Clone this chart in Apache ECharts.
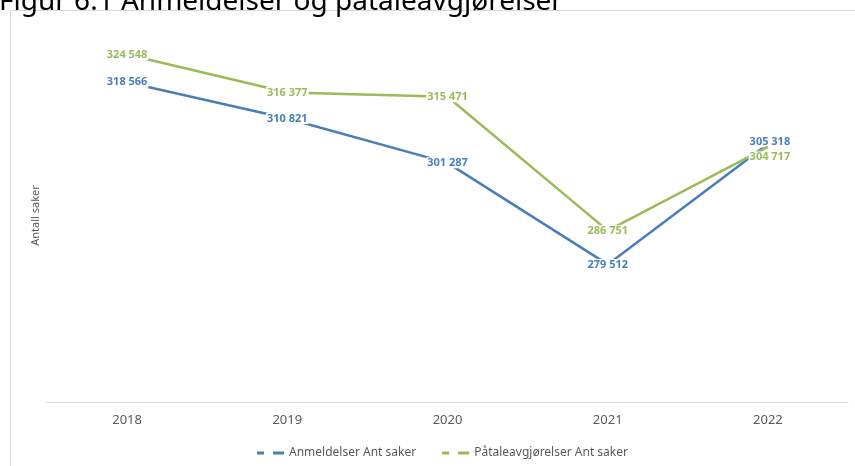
<!DOCTYPE html>
<html><head><meta charset="utf-8">
<script src="https://cdn.jsdelivr.net/npm/echarts@6/dist/echarts.min.js"></script>
<style>html,body{margin:0;padding:0;background:#fff}#c{width:855px;height:466px}</style>
</head><body><div id="c"></div>
<script>
const categories = ['2018', '2019', '2020', '2021', '2022'];
const anmeldelser = [318566, 310821, 301287, 279512, 305318];
const paatale = [324548, 316377, 315471, 286751, 304717];
const seriesNames = ['Anmeldelser Ant saker', 'Påtaleavgjørelser Ant saker'];
const titleText = 'Figur 6.1 Anmeldelser og påtaleavgjørelser';

const blue = '#4a7ebb', green = '#9bbb59';
const fmt = v => String(v).replace(/\B(?=(\d{3})+(?!\d))/g, ' ');
const icon = 'path://M0,0H7V3H0Z M16,0H27V3H16Z';

function build(values, lastOffset) {
  return values.map((v, i) => {
    const d = { value: v };
    if (i === values.length - 1) d.label = { offset: lastOffset };
    return d;
  });
}
const labelBase = (color) => ({
  show: true, position: 'inside', color: color, fontWeight: 'bold',
  fontFamily: 'Noto Sans', fontSize: 11, backgroundColor: '#fff',
  padding: [0, 1], formatter: p => fmt(p.value)
});

const chart = echarts.init(document.getElementById('c'), null, { renderer: 'canvas' });
chart.setOption({
  animation: false,
  backgroundColor: '#fff',
  graphic: [
    { type: 'rect', shape: { x: 10.5, y: 10.5, width: 900, height: 500 }, style: { fill: 'none', stroke: '#d9d9d9', lineWidth: 1 }, z: -1 },
    { type: 'text', x: -1, y: -12, style: { text: titleText, font: '28px "Noto Sans"', fill: '#000' } }
  ],
  grid: { left: 47, right: 7, top: 29, bottom: 64 },
  legend: {
    bottom: 2, left: 252, itemGap: 26, itemWidth: 27, itemHeight: 3,
    textStyle: { color: '#595959', fontFamily: 'Noto Sans', fontSize: 12 },
    data: [
      { name: seriesNames[0], icon: icon, itemStyle: { color: blue, opacity: 1 } },
      { name: seriesNames[1], icon: icon, itemStyle: { color: green, opacity: 1 } }
    ]
  },
  xAxis: {
    type: 'category', data: categories, boundaryGap: true,
    axisLine: { lineStyle: { color: '#d9d9d9' } }, axisTick: { show: false },
    axisLabel: { color: '#595959', fontFamily: 'Noto Sans', fontSize: 13, margin: 12 }
  },
  yAxis: {
    type: 'value', min: 250000, max: 330000,
    name: 'Antall saker', nameLocation: 'middle', nameGap: 6, nameRotate: 90,
    nameTextStyle: { color: '#595959', fontFamily: 'Noto Sans', fontSize: 11 },
    axisLabel: { show: false }, axisLine: { show: false }, axisTick: { show: false },
    splitLine: { show: false }
  },
  series: [
    { name: seriesNames[0], type: 'line', data: build(anmeldelser, [2, -2]), color: blue,
      showSymbol: true, symbol: 'circle', symbolSize: 0.1, itemStyle: { color: blue },
      lineStyle: { color: blue, width: 2.5 }, label: labelBase(blue), z: 2 },
    { name: seriesNames[1], type: 'line', data: build(paatale, [2, 10]), color: green,
      showSymbol: true, symbol: 'circle', symbolSize: 0.1, itemStyle: { color: green },
      lineStyle: { color: green, width: 2.5 }, label: labelBase(green), z: 3 }
  ]
});
</script></body></html>
